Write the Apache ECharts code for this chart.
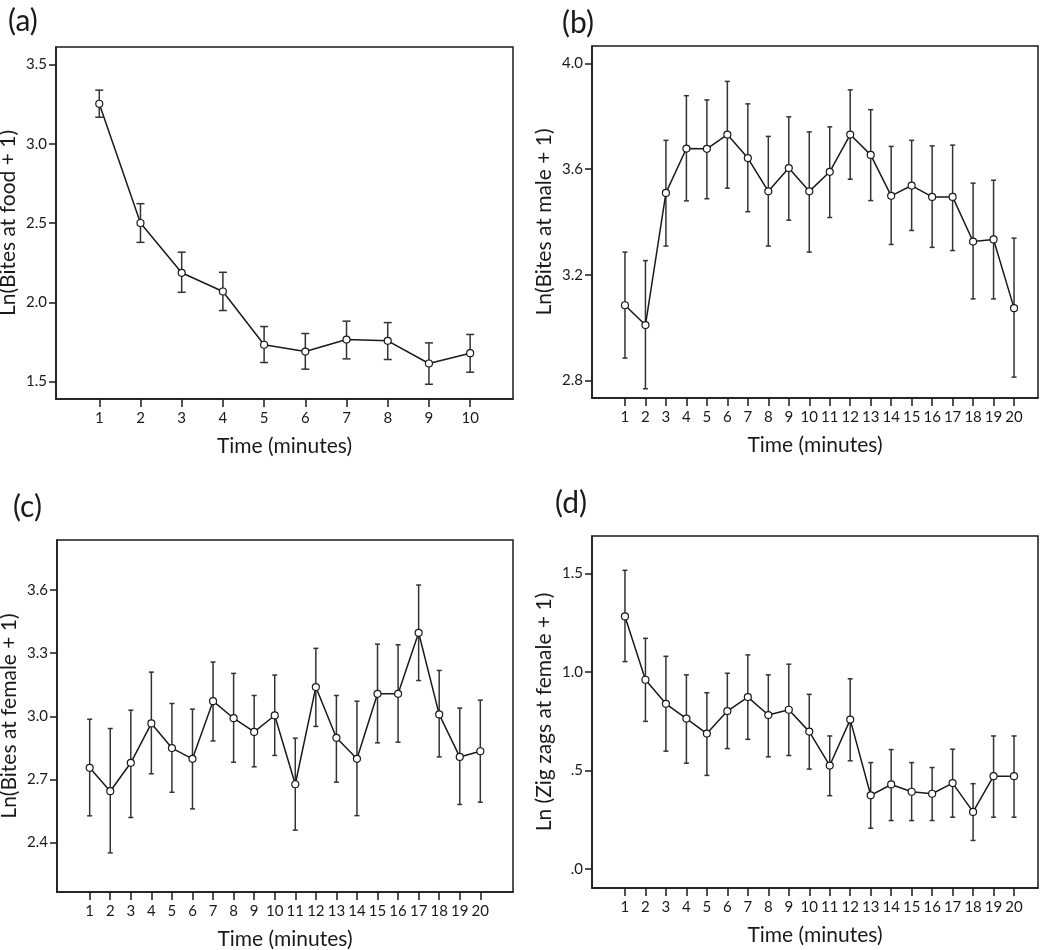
<!DOCTYPE html>
<html>
<head>
<meta charset="utf-8">
<script src="https://cdn.jsdelivr.net/npm/echarts@6/dist/echarts.min.js"></script>
<style>
  html, body { margin: 0; padding: 0; background: #fff; }
  #chart { width: 1050px; height: 950px; }
</style>
</head>
<body>
<div id="chart"></div>
<script>
// time points (minutes)
var timeA = [1, 2, 3, 4, 5, 6, 7, 8, 9, 10];
var timeB = [1, 2, 3, 4, 5, 6, 7, 8, 9, 10, 11, 12, 13, 14, 15, 16, 17, 18, 19, 20];

// (a) Ln(Bites at food + 1)
var foodMean = [3.252, 2.500, 2.186, 2.068, 1.732, 1.689, 1.765, 1.757, 1.614, 1.679];
var foodHigh = [3.338, 2.622, 2.316, 2.189, 1.847, 1.803, 1.881, 1.872, 1.744, 1.797];
var foodLow  = [3.167, 2.378, 2.063, 1.948, 1.620, 1.578, 1.643, 1.639, 1.483, 1.559];

// (b) Ln(Bites at male + 1)
var maleMean = [3.085, 3.010, 3.510, 3.678, 3.677, 3.731, 3.642, 3.516, 3.604, 3.516, 3.590, 3.731, 3.654, 3.499, 3.538, 3.495, 3.495, 3.326, 3.334, 3.074];
var maleHigh = [3.286, 3.254, 3.709, 3.878, 3.862, 3.932, 3.847, 3.724, 3.798, 3.741, 3.760, 3.900, 3.825, 3.686, 3.709, 3.688, 3.691, 3.547, 3.558, 3.339];
var maleLow  = [2.885, 2.769, 3.309, 3.480, 3.488, 3.528, 3.439, 3.309, 3.407, 3.286, 3.417, 3.562, 3.481, 3.315, 3.368, 3.304, 3.292, 3.109, 3.109, 2.813];

// (c) Ln(Bites at female + 1)
var femMean = [2.755, 2.644, 2.779, 2.966, 2.849, 2.798, 3.072, 2.991, 2.926, 3.004, 2.677, 3.139, 2.898, 2.798, 3.107, 3.107, 3.397, 3.009, 2.807, 2.834];
var femHigh = [2.986, 2.942, 3.029, 3.210, 3.061, 3.034, 3.258, 3.204, 3.099, 3.196, 2.896, 3.323, 3.099, 3.072, 3.343, 3.340, 3.624, 3.218, 3.039, 3.077];
var femLow  = [2.527, 2.351, 2.519, 2.727, 2.639, 2.560, 2.883, 2.782, 2.760, 2.814, 2.459, 2.952, 2.687, 2.528, 2.874, 2.877, 3.170, 2.807, 2.581, 2.592];

// (d) Ln (Zig zags at female + 1)
var zigMean = [1.281, 0.960, 0.838, 0.763, 0.687, 0.801, 0.872, 0.781, 0.808, 0.697, 0.525, 0.758, 0.374, 0.429, 0.392, 0.382, 0.436, 0.290, 0.471, 0.471];
var zigHigh = [1.515, 1.170, 1.079, 0.985, 0.894, 0.993, 1.086, 0.985, 1.039, 0.886, 0.675, 0.965, 0.540, 0.606, 0.540, 0.515, 0.608, 0.433, 0.675, 0.675];
var zigLow  = [1.052, 0.749, 0.598, 0.537, 0.475, 0.611, 0.658, 0.569, 0.576, 0.507, 0.372, 0.549, 0.207, 0.246, 0.246, 0.246, 0.263, 0.145, 0.263, 0.263];

// y tick values
var yTicksA = [1.5, 2.0, 2.5, 3.0, 3.5];
var yTicksB = [2.8, 3.2, 3.6, 4.0];
var yTicksC = [2.4, 2.7, 3.0, 3.3, 3.6];
var yTicksD = [0, 0.5, 1.0, 1.5];
var yLabelsD = ['.0', '.5', '1.0', '1.5'];

var FONT = 'Lato';
var INK = '#1a1a1a';

var panels = [
  { tag: '(a)', tagPos: [3, 1], grid: { left: 56, top: 47, width: 457, height: 352 },
    x: timeA, mean: foodMean, lo: foodLow, hi: foodHigh, xMin: -0.05, xMax: 11.04,
    yMin: 1.39, yMax: 3.61, yTicks: yTicksA, yName: 'Ln(Bites at food + 1)', cap: 4 },
  { tag: '(b)', tagPos: [557, 3], grid: { left: 592, top: 46, width: 446, height: 352 },
    x: timeB, mean: maleMean, lo: maleLow, hi: maleHigh, xMin: -0.61, xMax: 21.17,
    yMin: 2.734, yMax: 4.066, yTicks: yTicksB, yName: 'Ln(Bites at male + 1)', cap: 2.5 },
  { tag: '(c)', tagPos: [8, 487], grid: { left: 57, top: 540, width: 456, height: 352 },
    x: timeB, mean: femMean, lo: femLow, hi: femHigh, xMin: -0.59, xMax: 21.59,
    yMin: 2.165, yMax: 3.838, yTicks: yTicksC, yName: 'Ln(Bites at female + 1)', cap: 2.5 },
  { tag: '(d)', tagPos: [550, 483], grid: { left: 592, top: 536, width: 446, height: 352 },
    x: timeB, mean: zigMean, lo: zigLow, hi: zigHigh, xMin: -0.61, xMax: 21.17,
    yMin: -0.096, yMax: 1.689, yTicks: yTicksD, yName: 'Ln (Zig zags at female + 1)', cap: 2.5,
    yFmt: function (v) { return yLabelsD[yTicksD.indexOf(v)]; } }
];

var option = {
  animation: false,
  backgroundColor: '#fff',
  title: [], grid: [], xAxis: [], yAxis: [], series: []
};

panels.forEach(function (p, i) {
  option.title.push({
    text: p.tag, left: p.tagPos[0], top: p.tagPos[1],
    textStyle: { fontFamily: FONT, fontSize: 30, fontWeight: 'normal', color: INK }
  });
  option.grid.push({
    left: p.grid.left, top: p.grid.top, width: p.grid.width, height: p.grid.height,
    outerBoundsMode: 'none', show: false
  });
  option.xAxis.push({
    type: 'value', gridIndex: i, position: 'bottom', min: p.xMin, max: p.xMax,
    name: 'Time (minutes)', nameLocation: 'middle', nameGap: 37,
    nameTextStyle: { fontFamily: FONT, fontSize: 21, color: INK },
    axisLine: { show: true, onZero: false, lineStyle: { color: INK, width: 1.5 } },
    axisTick: { show: true, customValues: p.x, length: 8, lineStyle: { color: INK, width: 1.5 } },
    axisLabel: { customValues: p.x, margin: 12, fontFamily: FONT, fontSize: 15, color: INK },
    splitLine: { show: false }
  });
  option.yAxis.push({
    type: 'value', gridIndex: i, position: 'left', min: p.yMin, max: p.yMax,
    name: p.yName, nameLocation: 'middle', nameGap: 37, nameRotate: 90,
    nameTextStyle: { fontFamily: FONT, fontSize: 21, color: INK },
    axisLine: { show: true, onZero: false, lineStyle: { color: INK, width: 1.5 } },
    axisTick: { show: true, customValues: p.yTicks, length: 7, lineStyle: { color: INK, width: 1.5 } },
    axisLabel: {
      customValues: p.yTicks, margin: 9, fontFamily: FONT, fontSize: 15, color: INK,
      formatter: p.yFmt || function (v) { return v.toFixed(1); }
    },
    splitLine: { show: false }
  });

  // plot frame, drawn through the panel's own axes
  option.series.push({
    type: 'custom', xAxisIndex: i, yAxisIndex: i, z: 1, clip: false, silent: true,
    data: [[p.xMin, p.yMin, p.xMax, p.yMax]],
    renderItem: function (params, api) {
      var a = api.coord([api.value(0), api.value(3)]);
      var b = api.coord([api.value(2), api.value(1)]);
      return {
        type: 'rect',
        shape: { x: a[0], y: a[1], width: b[0] - a[0], height: b[1] - a[1] },
        style: { fill: null, stroke: INK, lineWidth: 1.5 }
      };
    }
  });

  var cap = p.cap;
  option.series.push({
    type: 'custom', xAxisIndex: i, yAxisIndex: i, z: 2,
    encode: { x: 0, y: [1, 2] },
    data: p.x.map(function (t, k) { return [t, p.lo[k], p.hi[k]]; }),
    renderItem: function (params, api) {
      var top = api.coord([api.value(0), api.value(2)]);
      var bot = api.coord([api.value(0), api.value(1)]);
      var st = { stroke: '#333', lineWidth: 1.5 };
      return {
        type: 'group',
        children: [
          { type: 'line', shape: { x1: top[0], y1: top[1], x2: bot[0], y2: bot[1] }, style: st },
          { type: 'line', shape: { x1: top[0] - cap, y1: top[1], x2: top[0] + cap, y2: top[1] }, style: st },
          { type: 'line', shape: { x1: bot[0] - cap, y1: bot[1], x2: bot[0] + cap, y2: bot[1] }, style: st }
        ]
      };
    }
  });
  option.series.push({
    type: 'line', xAxisIndex: i, yAxisIndex: i, z: 3,
    data: p.x.map(function (t, k) { return [t, p.mean[k]]; }),
    symbol: 'circle', symbolSize: 7, showAllSymbol: true,
    lineStyle: { color: INK, width: 1.5 },
    itemStyle: { color: '#fff', borderColor: INK, borderWidth: 1.2 }
  });
});

var chart = echarts.init(document.getElementById('chart'));
chart.setOption(option);
</script>
</body>
</html>
